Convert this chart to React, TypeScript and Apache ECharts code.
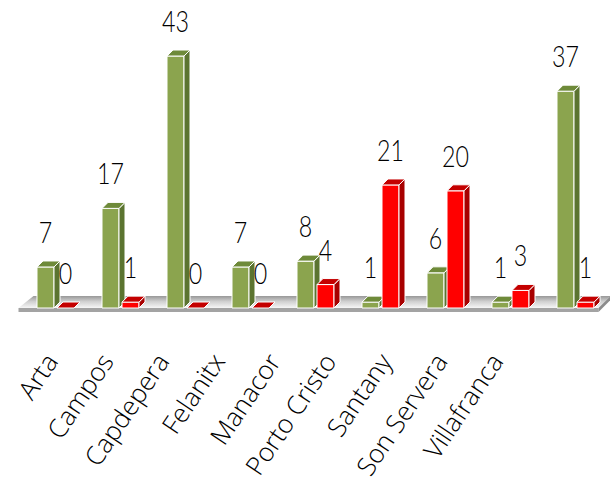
import React, { useEffect, useRef } from "react";
import * as echarts from "echarts";

const categories = ["Arta", "Campos", "Capdepera", "Felanitx", "Manacor", "Porto Cristo", "Santany", "Son Servera", "Villafranca"];
const greenValues = [7, 17, 43, 7, 8, 1, 6, 1, 37];
const redValues = [0, 1, 0, 0, 4, 21, 20, 3, 1];

const GREEN = { front: "#8BA44E", top: "#6E8A39", side: "#5B7430" };
const RED = { front: "#FF0000", top: "#C40000", side: "#A80000" };

function makeBarRender(colors: { front: string; top: string; side: string }, offset: number) {
  return (params: any, api: any) => {
    const idx = api.value(0);
    const v = api.value(1);
    const base = api.coord([idx, 0]);
    const top = api.coord([idx, v]);
    const bw = api.size([1, 0])[0];
    const k = bw / 65;
    const w = 17 * k;
    const d = 6 * k;
    const left = base[0] + offset * k;
    const ty = top[1];
    const by = base[1];
    const children: any[] = [];
    if (by - ty > 0.5) {
      children.push({
        type: "rect",
        shape: { x: left, y: ty, width: w, height: by - ty },
        style: { fill: colors.front, stroke: "#ffffff", lineWidth: 1 },
      });
    }
    children.push({
      type: "polygon",
      shape: { points: [[left + w, ty], [left + w + d, ty - d], [left + w + d, by - d], [left + w, by]] },
      style: { fill: colors.side, stroke: "#ffffff", lineWidth: 1 },
    });
    children.push({
      type: "polygon",
      shape: { points: [[left, ty], [left + d, ty - d], [left + w + d, ty - d], [left + w, ty]] },
      style: { fill: colors.top, stroke: "#ffffff", lineWidth: 1 },
    });
    children.push({
      type: "text",
      x: left + w / 2,
      y: ty - d - 29,
      scaleX: 0.8,
      style: {
        text: String(v),
        x: 0,
        y: 0,
        fontFamily: "Lato",
        fontWeight: 300,
        fontSize: 29,
        fill: "#000000",
        align: "center",
        verticalAlign: "middle",
      },
    });
    return { type: "group", children };
  };
}

function floorRender(params: any, api: any) {
  const cs = params.coordSys;
  const x0 = cs.x;
  const x1 = cs.x + cs.width;
  const by = cs.y + cs.height;
  return {
    type: "group",
    children: [
      {
        type: "polygon",
        shape: { points: [[x0 + 12, by - 12], [x1 + 4, by - 12], [x1 - 8, by], [x0 - 3, by]] },
        style: {
          fill: new echarts.graphic.LinearGradient(0, 0, 0, 1, [
            { offset: 0, color: "#989898" },
            { offset: 0.45, color: "#cfcfcf" },
            { offset: 1, color: "#f6f6f6" },
          ]),
        },
      },
      {
        type: "polygon",
        shape: { points: [[x0 - 3, by], [x1 - 8, by], [x1 - 8, by + 4], [x0 - 3, by + 4]] },
        style: { fill: "#a3a3a3" },
      },
      {
        type: "polygon",
        shape: { points: [[x1 + 4, by - 12], [x1 + 4, by - 8], [x1 - 8, by + 4], [x1 - 8, by]] },
        style: { fill: "#8c8c8c" },
      },
    ],
  };
}

export default function App() {
  const ref = useRef<HTMLDivElement>(null);
  useEffect(() => {
    if (!ref.current) return;
    const chart = echarts.init(ref.current, null, { renderer: "svg" });
    chart.setOption({
      animation: false,
      backgroundColor: "#ffffff",
      grid: [
        { left: 21.5, right: 3.5, top: 15, bottom: 180, containLabel: false, outerBoundsMode: "none" },
        { left: 23, right: 86, top: 15, bottom: 180, containLabel: false, outerBoundsMode: "none" },
      ],
      xAxis: [
        {
          type: "category",
          gridIndex: 0,
          data: categories,
          axisLine: { show: false },
          axisTick: { show: false },
          axisLabel: { show: false },
        },
        {
          type: "category",
          gridIndex: 1,
          data: categories,
          axisLine: { show: false },
          axisTick: { show: false },
          axisLabel: {
            interval: 0,
            rotate: 56,
            margin: 48,
            fontFamily: "Open Sans",
            fontWeight: 300,
            fontSize: 26,
            color: "#000000",
          },
        },
      ],
      yAxis: [
        { type: "value", gridIndex: 0, min: 0, max: 50, show: false, splitLine: { show: false } },
        { type: "value", gridIndex: 1, min: 0, max: 50, show: false, splitLine: { show: false } },
      ],
      series: [
        {
          type: "custom",
          name: "floor",
          z: 1,
          renderItem: floorRender,
          data: [[0, 0]],
          silent: true,
        },
        {
          type: "custom",
          name: "green",
          z: 2,
          renderItem: makeBarRender(GREEN, -17),
          encode: { x: 0, y: 1 },
          data: greenValues.map((v, i) => [i, v]),
        },
        {
          type: "custom",
          name: "red",
          z: 3,
          renderItem: makeBarRender(RED, 3),
          encode: { x: 0, y: 1 },
          data: redValues.map((v, i) => [i, v]),
        },
      ],
    });
    return () => chart.dispose();
  }, []);
  return <div ref={ref} style={{ position: "absolute", left: 0, top: 0, width: 610, height: 488 }} />;
}
